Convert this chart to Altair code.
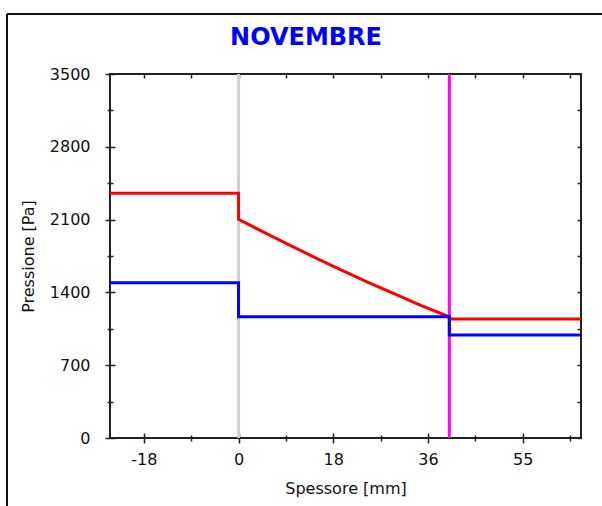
import altair as alt
import pandas as pd

# ---- data ----
x_min, x_max = -24.7, 65.8
wall_in, wall_out = 0.0, 40.5

# red series (saturation pressure)
red_x = [-24.7, 0.0, 0.0, 5, 10, 15, 20, 25, 30, 35, 40.5, 40.5, 65.8]
red_y = [2353, 2353, 2103, 1975, 1850, 1728, 1610, 1495, 1385, 1275, 1166, 1144, 1144]
# blue series (partial pressure)
blue_x = [-24.7, 0.0, 0.0, 40.5, 40.5, 65.8]
blue_y = [1493, 1493, 1166, 1166, 990, 990]

x_major = [-18.2, 0.0, 18.2, 36.4, 54.6]
x_minor = [-9.1, 9.1, 27.3, 45.5, 63.7]
y_major = [0, 700, 1400, 2100, 2800, 3500]
y_minor = [350, 1050, 1750, 2450, 3150]

rows = []
for i, (a, b) in enumerate(zip(red_x, red_y)):
    rows.append({"s": "red", "i": i, "x": a, "y": b})
for i, (a, b) in enumerate(zip(blue_x, blue_y)):
    rows.append({"s": "blue", "i": i, "x": a, "y": b})
df = pd.DataFrame(rows)

FONT = "DejaVu Sans"
xs = alt.Scale(domain=[x_min, x_max], nice=False, zero=False)
ys = alt.Scale(domain=[0, 3500], nice=False, zero=False)
label_expr = "datum.value < 0 ? '-' + format(-datum.value, '.0f') : format(datum.value, '.0f')"

def base_axis(**kw):
    d = dict(domain=False, grid=False, tickColor="#222", tickWidth=1.5,
             labelFont=FONT, labelFontSize=16, labelColor="#111",
             titleFont=FONT, titleFontSize=16, titleFontWeight="normal", titleColor="#111")
    d.update(kw)
    return alt.Axis(**d)

line_colors = alt.Scale(domain=["red", "blue"], range=["#ff0000", "#0000ff"])

main_lines = alt.Chart(df).mark_line(strokeWidth=3).encode(
    x=alt.X("x:Q", scale=xs, axis=base_axis(orient="bottom", values=x_major, offset=-5, tickSize=10,
                                            labelExpr=label_expr, labelPadding=8,
                                            title="Spessore [mm]", titlePadding=13)),
    y=alt.Y("y:Q", scale=ys, axis=base_axis(orient="left", values=y_major, offset=-5, tickSize=10,
                                            format="d", labelPadding=15,
                                            title="Pressione [Pa]", titlePadding=13)),
    color=alt.Color("s:N", scale=line_colors, legend=None),
    detail="s:N",
    order="i:Q",
)

minor_axes = alt.Chart(df).mark_line(opacity=0).encode(
    x=alt.X("x:Q", scale=xs, axis=base_axis(orient="bottom", values=x_minor, offset=-3, tickSize=6,
                                            labels=False, title="")),
    y=alt.Y("y:Q", scale=ys, axis=base_axis(orient="left", values=y_minor, offset=-3, tickSize=6,
                                            labels=False, title="")),
    detail="s:N",
    order="i:Q",
)

mirror_axes = alt.Chart(df).mark_line(opacity=0).encode(
    x=alt.X("x:Q", scale=xs, axis=base_axis(orient="top", values=x_major + x_minor, offset=-4, tickSize=4,
                                            labels=False, title="")),
    y=alt.Y("y:Q", scale=ys, axis=base_axis(orient="right", values=y_major + y_minor, offset=-4, tickSize=4,
                                            labels=False, title="")),
    detail="s:N",
    order="i:Q",
)

gray_rule = alt.Chart(pd.DataFrame({"x": [wall_in]})).mark_rule(color="#d0d0d0", strokeWidth=3).encode(
    x=alt.X("x:Q", scale=xs, axis=None)
)
magenta_rule = alt.Chart(pd.DataFrame({"x": [wall_out]})).mark_rule(color="#ff00ff", strokeWidth=3).encode(
    x=alt.X("x:Q", scale=xs, axis=None)
)

one = alt.Data(values=[{}])
title_text = alt.Chart(one).mark_text(
    text="NOVEMBRE", font=FONT, fontWeight="bold", fontSize=24, color="#0000ff",
    align="center", baseline="alphabetic"
).encode(x=alt.value(196), y=alt.value(-29))

frame_left = alt.Chart(one).mark_rule(color="#111", strokeWidth=2).encode(
    x=alt.value(-103), y=alt.value(-60), y2=alt.value(440))
frame_top = alt.Chart(one).mark_rule(color="#111", strokeWidth=2).encode(
    x=alt.value(-103), x2=alt.value(500), y=alt.value(-60))

chart = alt.layer(
    gray_rule, magenta_rule, main_lines, minor_axes, mirror_axes,
    title_text, frame_left, frame_top
).resolve_axis(x="independent", y="independent").properties(
    width=471, height=364,
    autosize=alt.AutoSizeParams(type="none"),
    padding={"left": 110, "top": 74, "right": 21, "bottom": 68},
    background="white",
).configure_view(stroke="#222", strokeWidth=2)

chart.save("out.html", embed_options={"renderer": "svg", "actions": False})
